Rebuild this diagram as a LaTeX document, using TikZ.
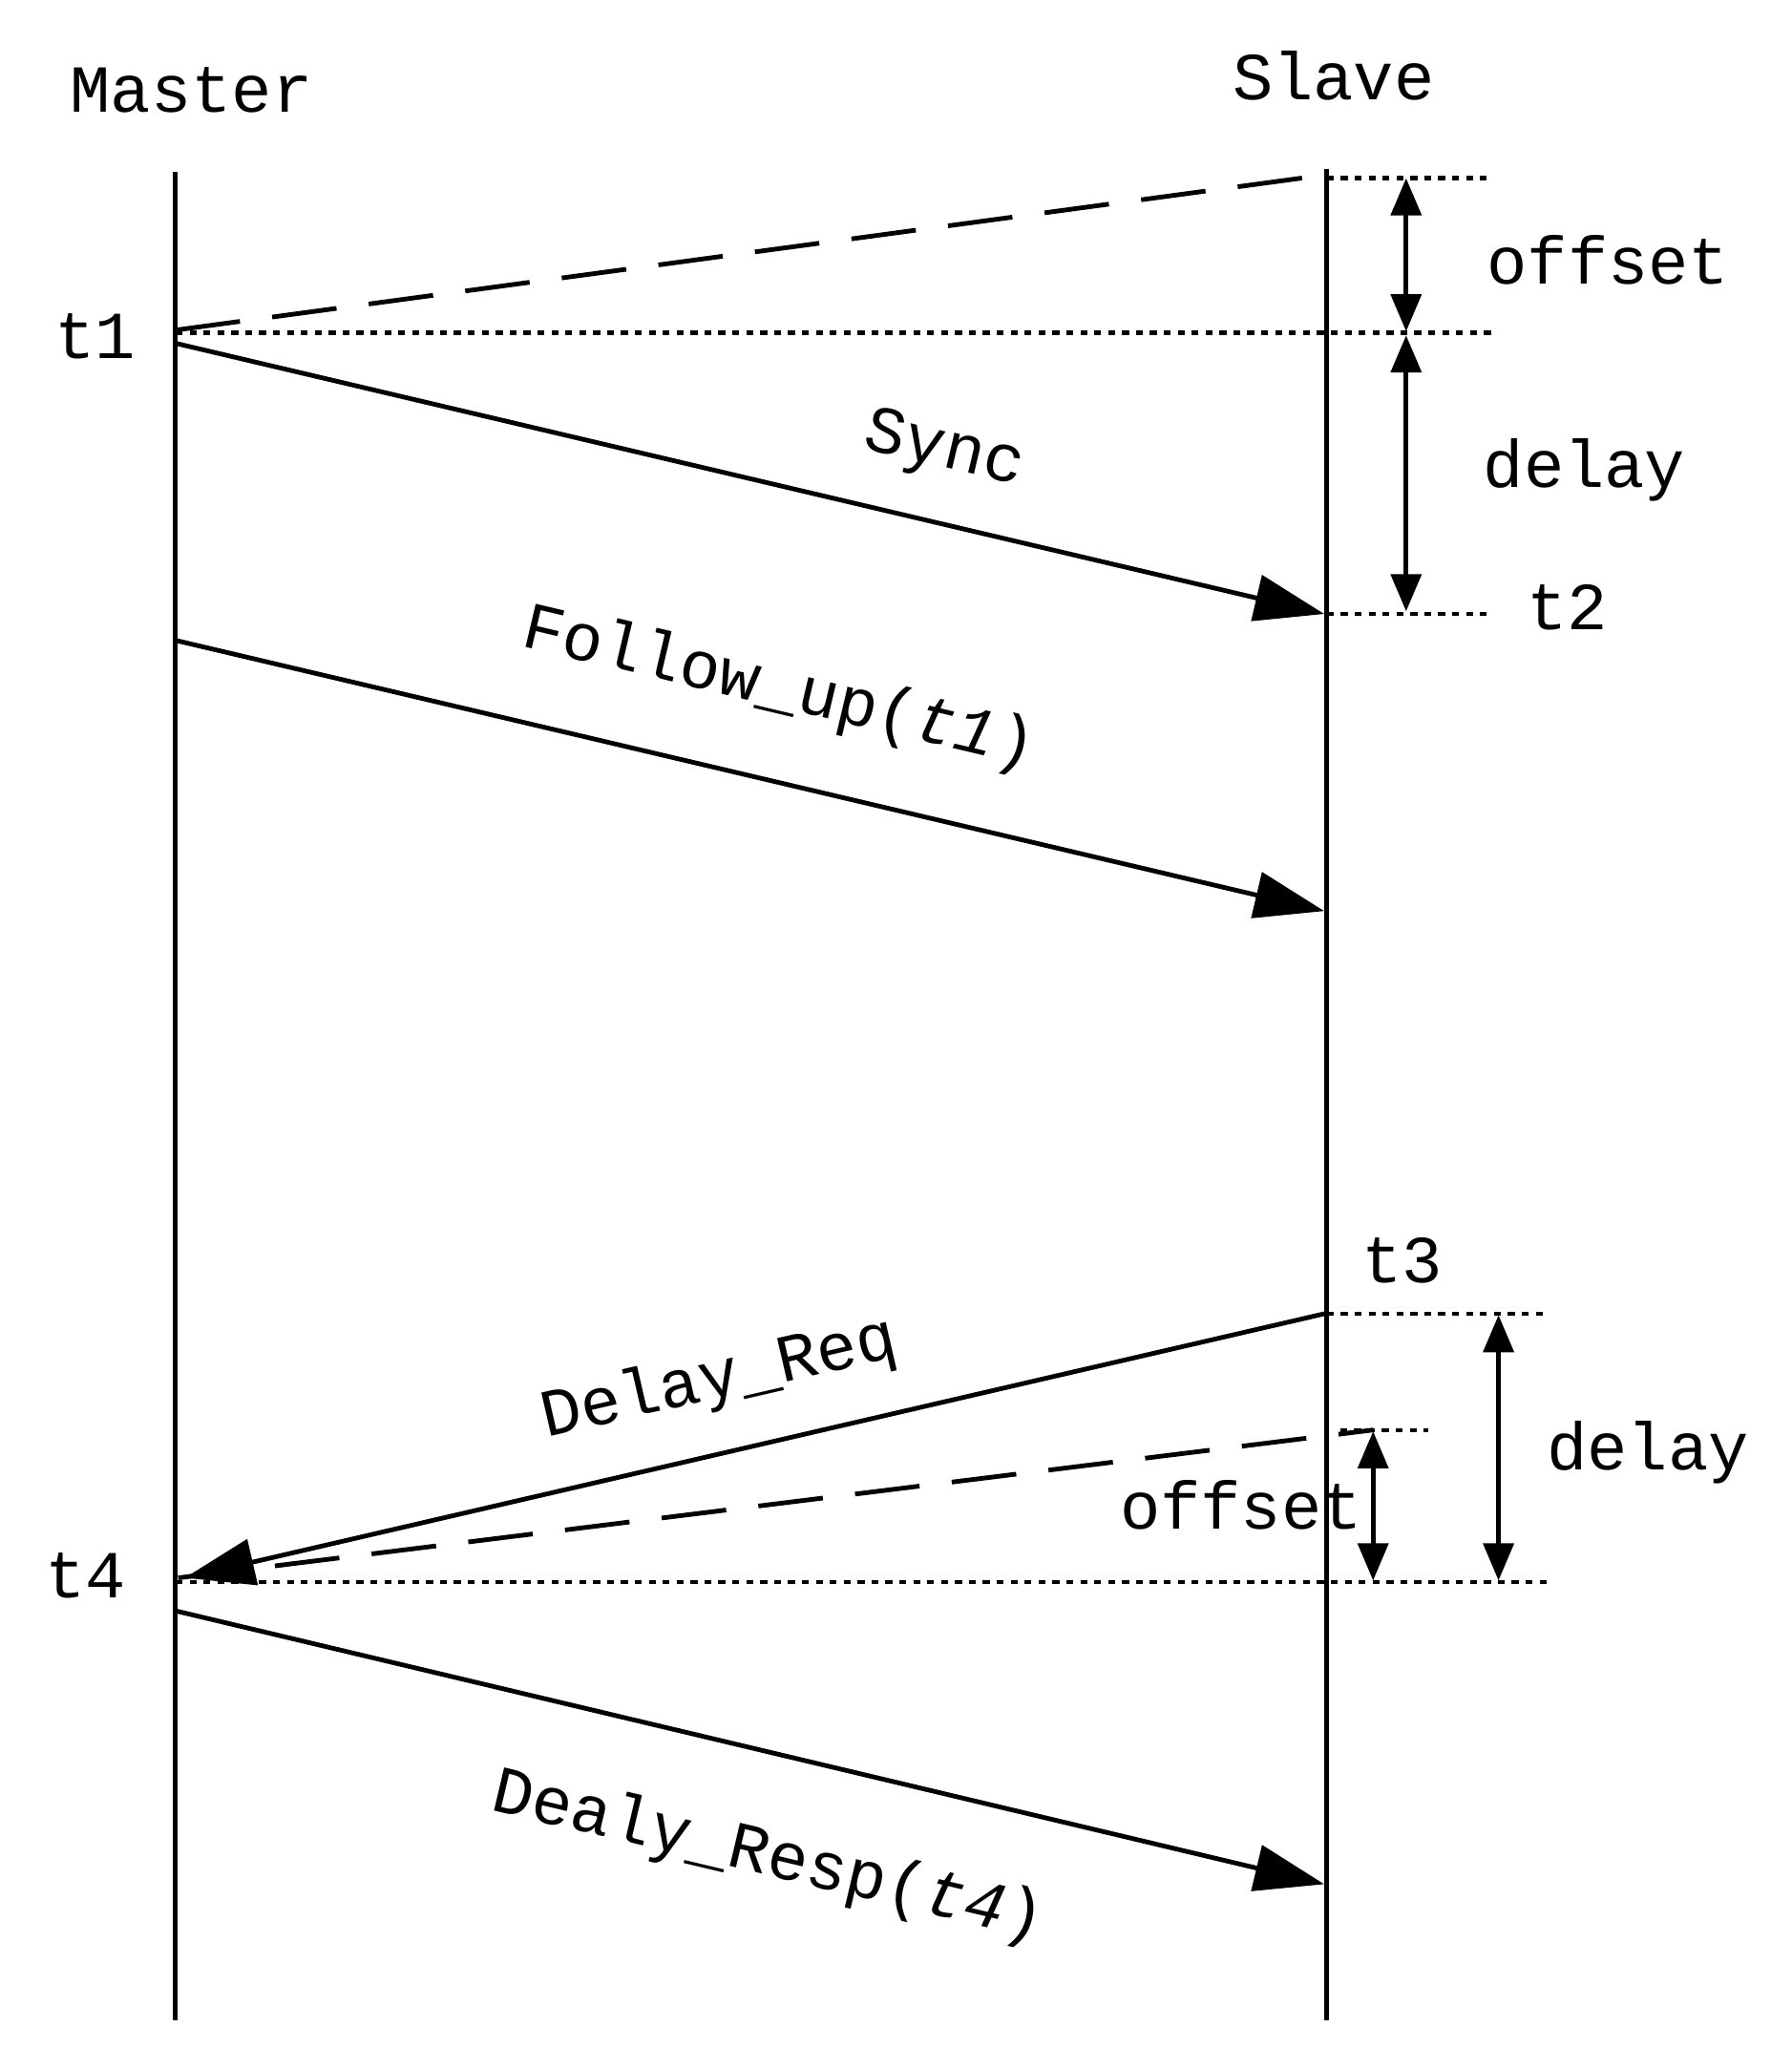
\documentclass[tikz,border=0pt]{standalone}
\usepackage{fontspec}
\setmainfont{Liberation Mono}
\usetikzlibrary{arrows.meta}
\begin{document}
\begin{tikzpicture}[x=0.02cm,y=-0.02cm,
  ln/.style={line width=2pt},
  msg/.style={line width=2pt,-{Triangle[length=30pt,width=20pt]}},
  dbl/.style={line width=2pt,{Triangle[length=16pt,width=13pt]}-{Triangle[length=16pt,width=13pt]}},
  dot/.style={line width=1.8pt,dash pattern=on 3pt off 3pt},
  dsh/.style={line width=2pt,dash pattern=on 28pt off 14pt},
  lab/.style={font=\fontsize{29}{32}\selectfont,inner sep=0pt}]
\useasboundingbox (0,0) rectangle (1357,1567);
\coordinate (mt) at (133,130); \coordinate (mb) at (133,1530);
\coordinate (st) at (1005,128); \coordinate (sb) at (1005,1530);
\draw[ln] (mt) -- (mb); \draw[ln] (st) -- (sb);
\node[lab] (master) at (145,68) {Master};
\node[lab] (slave) at (1010,57) {Slave};
% top
\coordinate (d1a) at (133,250); \coordinate (d1b) at (1000,133);
\draw[dsh] (d1a) -- (d1b);
\coordinate (o1a) at (1005,135); \coordinate (o1b) at (1128,135);
\draw[dot] (o1a) -- (o1b);
\coordinate (l1a) at (133,252); \coordinate (l1b) at (1133,252);
\draw[dot] (l1a) -- (l1b);
\coordinate (a1t) at (1065,135); \coordinate (a1b) at (1065,251);
\draw[dbl] (a1t) -- (a1b);
\coordinate (a2t) at (1065,254); \coordinate (a2b) at (1065,463);
\draw[dbl] (a2t) -- (a2b);
\node[lab] (off1) at (1218,197) {offset};
\node[lab] (del1) at (1200,356) {delay};
\coordinate (l2a) at (1005,465); \coordinate (l2b) at (1128,465);
\draw[dot] (l2a) -- (l2b);
\node[lab] (t2) at (1187,460) {t2};
\node[lab] (t1) at (72,255) {t1};
\coordinate (s1) at (133,260); \coordinate (s2) at (1003,465);
\draw[msg] (s1) -- (s2);
\node[lab,rotate=-13.3] (sync) at (715,342) {Sync};
\coordinate (f1) at (133,485); \coordinate (f2) at (1003,690);
\draw[msg] (f1) -- (f2);
\node[lab,rotate=-13.3] (fu) at (590,522) {Follow\_up(\textit{t1})};
% bottom
\node[lab] (t3) at (1062,955) {t3};
\coordinate (l3a) at (1005,995); \coordinate (l3b) at (1170,995);
\draw[dot] (l3a) -- (l3b);
\coordinate (r1) at (1003,995); \coordinate (r2) at (140,1195);
\draw[msg] (r1) -- (r2);
\node[lab,rotate=13] (dr) at (545,1045) {Delay\_Req};
\coordinate (d2a) at (135,1195); \coordinate (d2b) at (1040,1083);
\draw[dsh] (d2a) -- (d2b);
\coordinate (l4a) at (1015,1083); \coordinate (l4b) at (1082,1083);
\draw[dot] (l4a) -- (l4b);
\coordinate (l5a) at (133,1198); \coordinate (l5b) at (1172,1198);
\draw[dot] (l5a) -- (l5b);
\coordinate (a3t) at (1040,1084); \coordinate (a3b) at (1040,1197);
\draw[dbl] (a3t) -- (a3b);
\coordinate (a4t) at (1135,996); \coordinate (a4b) at (1135,1197);
\draw[dbl] (a4t) -- (a4b);
\node[lab] (off2) at (940,1140) {offset};
\node[lab] (del2) at (1248,1100) {delay};
\node[lab] (t4) at (65,1193) {t4};
\coordinate (p1) at (133,1220); \coordinate (p2) at (1003,1427);
\draw[msg] (p1) -- (p2);
\node[lab,rotate=-13.3] (resp) at (582,1407) {Dealy\_Resp(\textit{t4})};
\end{tikzpicture}
\end{document}
